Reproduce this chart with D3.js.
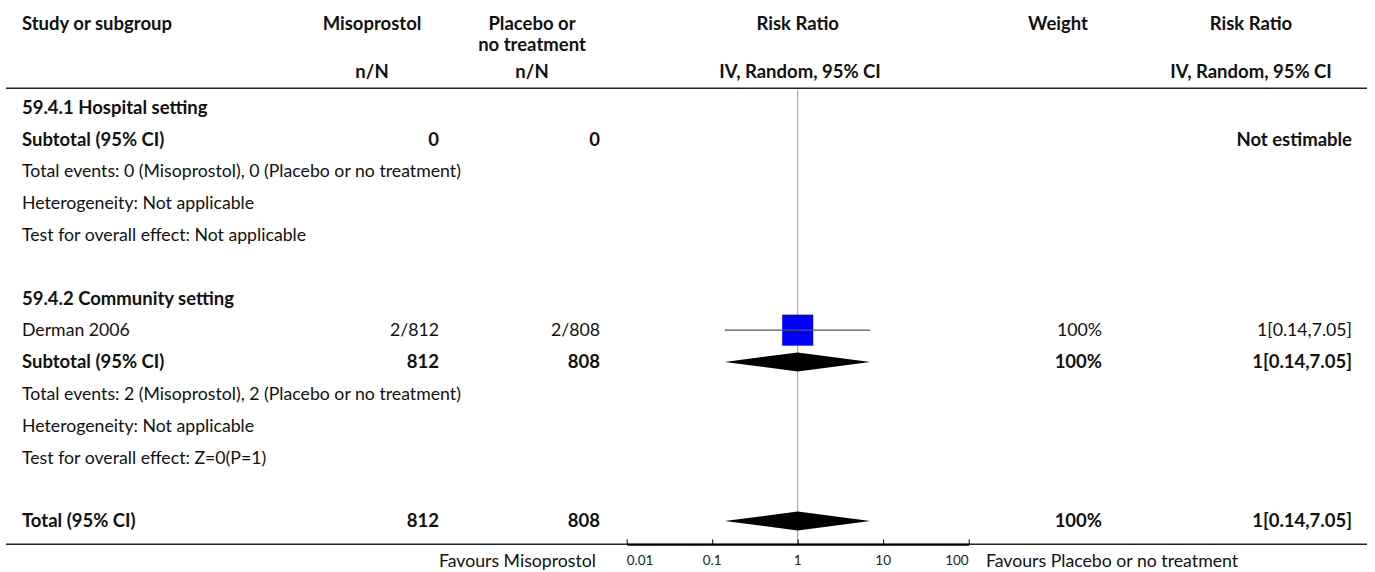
<!DOCTYPE html>
<html>
<head>
<meta charset="utf-8">
<script src="https://cdn.jsdelivr.net/npm/d3@7"></script>
<style>
  html, body { margin: 0; padding: 0; background: #fff; }
  svg { display: block; font-family: "Lato", "Open Sans", sans-serif; }
</style>
</head>
<body>
<svg id="chart" width="1375" height="572"></svg>
<script>
// ---------- data ----------
const rowLabels = [
  "59.4.1 Hospital setting",
  "Subtotal (95% CI)",
  "Total events: 0 (Misoprostol), 0 (Placebo or no treatment)",
  "Heterogeneity: Not applicable",
  "Test for overall effect: Not applicable",
  "",
  "59.4.2 Community setting",
  "Derman 2006",
  "Subtotal (95% CI)",
  "Total events: 2 (Misoprostol), 2 (Placebo or no treatment)",
  "Heterogeneity: Not applicable",
  "Test for overall effect: Z=0(P=1)",
  "",
  "Total (95% CI)"
];
const rowBold      = [1,1,0,0,0,0,1,0,1,0,0,0,0,1];
const misoprostolN = ["", "0", "", "", "", "", "", "2/812", "812", "", "", "", "", "812"];
const placeboN     = ["", "0", "", "", "", "", "", "2/808", "808", "", "", "", "", "808"];
const weightText   = ["", "", "", "", "", "", "", "100%", "100%", "", "", "", "", "100%"];
const ratioText    = ["", "Not estimable", "", "", "", "", "", "1[0.14,7.05]", "1[0.14,7.05]", "", "", "", "", "1[0.14,7.05]"];
const markType     = ["", "", "", "", "", "", "", "box", "diamond", "", "", "", "", "diamond"];
const ratioEst     = [null, null, null, null, null, null, null, 1, 1, null, null, null, null, 1];
const ratioLow     = [null, null, null, null, null, null, null, 0.14, 0.14, null, null, null, null, 0.14];
const ratioHigh    = [null, null, null, null, null, null, null, 7.05, 7.05, null, null, null, null, 7.05];
const axisTicks    = [0.01, 0.1, 1, 10, 100];
const leftFavours  = "Favours Misoprostol";
const rightFavours = "Favours Placebo or no treatment";

// ---------- layout ----------
const svg = d3.select("#chart");
const fsN = 17.7, fsB = 18.5;
const y = d3.scalePoint().domain(d3.range(rowLabels.length)).range([107.5, 521]);
const x = d3.scaleLog().domain([0.01, 100]).range([626.7, 968.7]);

const colStudy = 22, colMiso = 439, colPlac = 600, colWeight = 1102, colRatio = 1352;

// header
const hdr = svg.append("g").attr("font-weight", "bold").attr("font-size", fsB).attr("fill", "#111");
hdr.append("text").attr("x", colStudy).attr("y", 30).text("Study or subgroup");
hdr.append("text").attr("x", 372).attr("y", 30).attr("text-anchor", "middle").text("Misoprostol");
hdr.append("text").attr("x", 532).attr("y", 30).attr("text-anchor", "middle").text("Placebo or");
hdr.append("text").attr("x", 532).attr("y", 51).attr("text-anchor", "middle").text("no treatment");
hdr.append("text").attr("x", x(1)).attr("y", 30).attr("text-anchor", "middle").text("Risk Ratio");
hdr.append("text").attr("x", 1058).attr("y", 30).attr("text-anchor", "middle").text("Weight");
hdr.append("text").attr("x", 1251).attr("y", 30).attr("text-anchor", "middle").text("Risk Ratio");
hdr.append("text").attr("x", 372).attr("y", 78).attr("text-anchor", "middle").text("n/N");
hdr.append("text").attr("x", 532).attr("y", 78).attr("text-anchor", "middle").text("n/N");
hdr.append("text").attr("x", 800).attr("y", 78).attr("text-anchor", "middle").text("IV, Random, 95% CI");
hdr.append("text").attr("x", 1251).attr("y", 78).attr("text-anchor", "middle").text("IV, Random, 95% CI");

svg.append("line").attr("x1", 6).attr("x2", 1367).attr("y1", 88.3).attr("y2", 88.3)
  .attr("stroke", "#222").attr("stroke-width", 1.6);

// null line
svg.append("line").attr("x1", x(1)).attr("x2", x(1)).attr("y1", 90).attr("y2", 544)
  .attr("stroke", "#999").attr("stroke-width", 1);

// rows
const rowG = svg.append("g").selectAll("g").data(d3.range(rowLabels.length)).join("g")
  .attr("transform", i => `translate(0,${y(i)})`)
  .attr("font-size", i => rowBold[i] ? fsB : fsN)
  .attr("font-weight", i => rowBold[i] ? "bold" : "normal")
  .attr("fill", "#111");

rowG.append("text").attr("x", colStudy).attr("dy", "0.35em").text(i => rowLabels[i]);
rowG.append("text").attr("x", colMiso).attr("dy", "0.35em").attr("text-anchor", "end").text(i => misoprostolN[i]);
rowG.append("text").attr("x", colPlac).attr("dy", "0.35em").attr("text-anchor", "end").text(i => placeboN[i]);
rowG.append("text").attr("x", colWeight).attr("dy", "0.35em").attr("text-anchor", "end").text(i => weightText[i]);
rowG.append("text").attr("x", colRatio).attr("dy", "0.35em").attr("text-anchor", "end").text(i => ratioText[i]);

// study boxes with CI
const boxRows = d3.range(rowLabels.length).filter(i => markType[i] === "box");
const bg = svg.append("g").selectAll("g").data(boxRows).join("g");
bg.append("rect")
  .attr("x", i => x(ratioEst[i]) - 15.5).attr("y", i => y(i) - 15.5)
  .attr("width", 31).attr("height", 31).attr("fill", "#0000ff");
bg.append("line")
  .attr("x1", i => x(ratioLow[i])).attr("x2", i => x(ratioHigh[i]))
  .attr("y1", i => y(i)).attr("y2", i => y(i))
  .attr("stroke", "#555").attr("stroke-width", 1.3);
bg.append("line")
  .attr("x1", i => x(ratioEst[i])).attr("x2", i => x(ratioEst[i]))
  .attr("y1", i => y(i) - 4).attr("y2", i => y(i) + 4)
  .attr("stroke", "#222").attr("stroke-width", 1);

// diamonds
const diaRows = d3.range(rowLabels.length).filter(i => markType[i] === "diamond");
svg.append("g").selectAll("path").data(diaRows).join("path")
  .attr("d", i => {
    const cy = y(i), h = 9.5;
    return `M${x(ratioLow[i])},${cy}L${x(ratioEst[i])},${cy - h}L${x(ratioHigh[i])},${cy}L${x(ratioEst[i])},${cy + h}Z`;
  })
  .attr("fill", "#000");

// bottom line and axis
svg.append("line").attr("x1", 6).attr("x2", 1367).attr("y1", 544.3).attr("y2", 544.3)
  .attr("stroke", "#222").attr("stroke-width", 1.6);

const axis = d3.axisTop(x).tickValues(axisTicks).tickSize(5).tickSizeOuter(0).tickFormat(d => String(d));
const ag = svg.append("g").attr("transform", "translate(0,544.3)").call(axis);
ag.select(".domain").attr("stroke", "#000").attr("stroke-width", 2);
ag.selectAll(".tick line").attr("stroke", "#000");
ag.selectAll(".tick text").remove();
const nT = axisTicks.length;
svg.append("g").selectAll("text").data(axisTicks).join("text")
  .attr("x", d => x(d)).attr("y", 564.5)
  .attr("text-anchor", (d, i) => i === 0 ? "start" : (i === nT - 1 ? "end" : "middle"))
  .attr("font-size", 13.5).attr("fill", "#222").text(d => String(d));

svg.append("text").attr("x", 596).attr("y", 567).attr("text-anchor", "end")
  .attr("font-size", fsN).attr("fill", "#111").text(leftFavours);
svg.append("text").attr("x", 986).attr("y", 567)
  .attr("font-size", fsN).attr("fill", "#111").text(rightFavours);
</script>
</body>
</html>
